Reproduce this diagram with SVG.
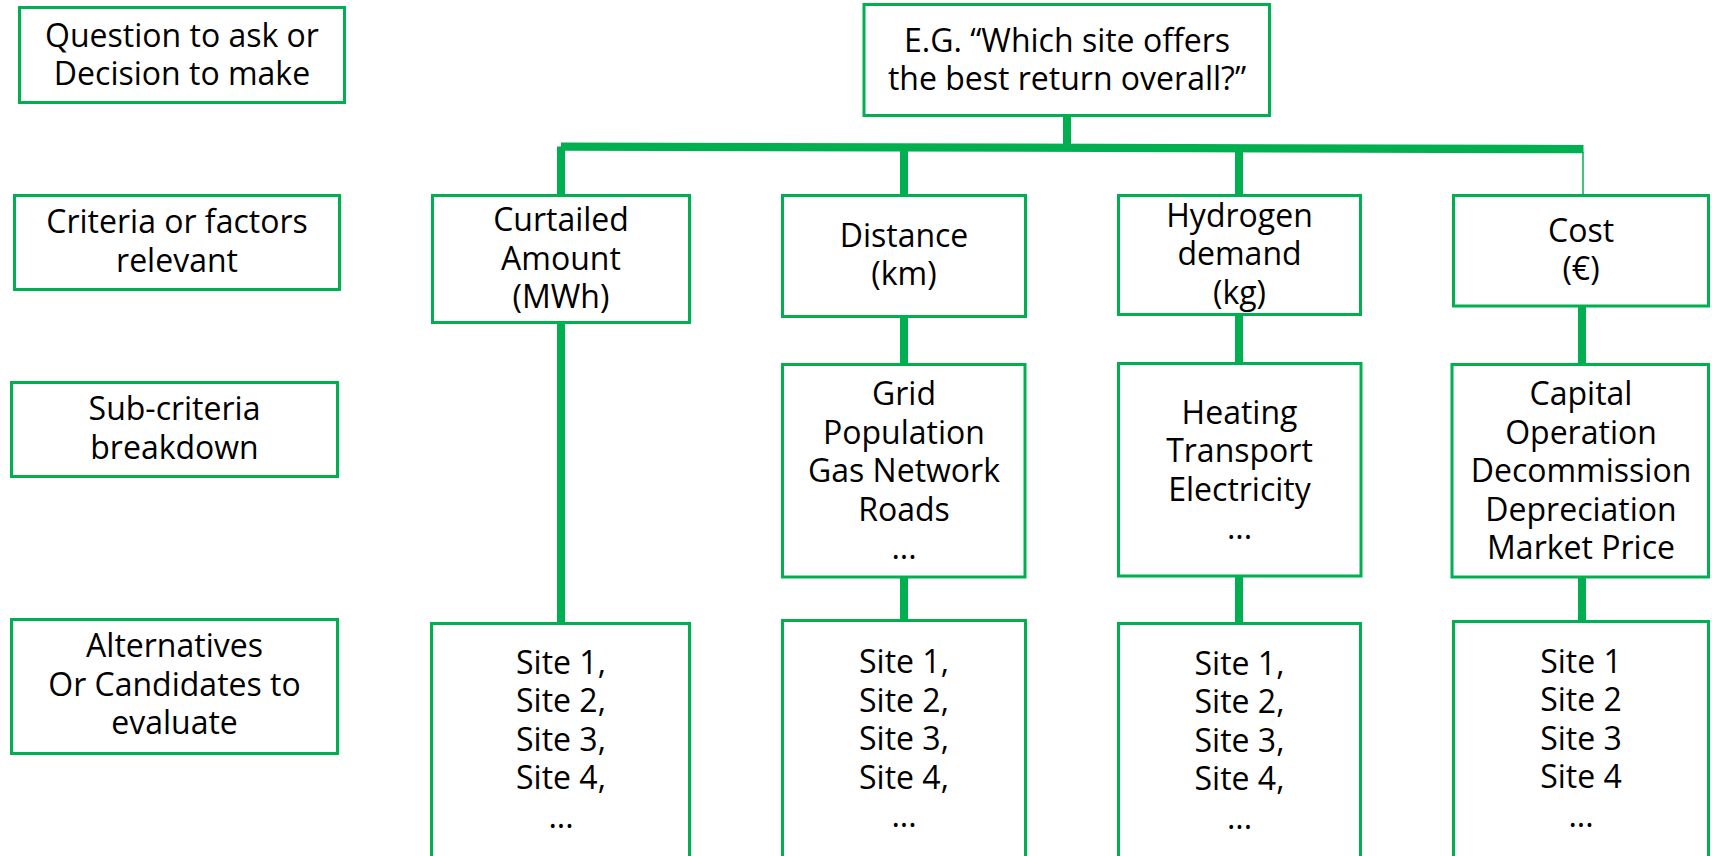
<svg xmlns="http://www.w3.org/2000/svg" width="1712" height="856" viewBox="0 0 1712 856">
<style>
.box{fill:#fff;stroke:#00B050;stroke-width:3}
.t{font-family:"Open Sans","Noto Sans","Liberation Sans",sans-serif;font-size:32px;fill:#000;text-anchor:middle}
.c{stroke:#00B050;stroke-width:8;fill:none}
.thin{stroke:#00B050;stroke-width:1.5;fill:none}
</style>
<rect width="1712" height="856" fill="#fff"/>
<g id="connectors">
<line class="c" x1="1067" y1="116" x2="1067" y2="147"/>
<polygon points="561,142.5 1583.5,145 1583.5,153.3 561,150.7" fill="#00B050"/>
<line class="c" x1="561" y1="146.5" x2="561" y2="623"/>
<line class="c" x1="904" y1="149" x2="904" y2="195"/>
<line class="c" x1="904" y1="317" x2="904" y2="364"/>
<line class="c" x1="904" y1="577" x2="904" y2="620"/>
<line class="c" x1="1239" y1="149" x2="1239" y2="195"/>
<line class="c" x1="1239" y1="315" x2="1239" y2="363"/>
<line class="c" x1="1239" y1="576" x2="1239" y2="623"/>
<line class="thin" x1="1583" y1="152" x2="1583" y2="195"/>
<line class="c" x1="1582" y1="306" x2="1582" y2="364"/>
<line class="c" x1="1582" y1="577" x2="1582" y2="621"/>
</g>
<g id="label-question">
<rect class="box" x="19.5" y="7.5" width="325" height="95"/>
<text class="t" x="182" y="46.5">Question to ask or</text>
<text class="t" x="182" y="85">Decision to make</text>
</g>
<g id="label-criteria">
<rect class="box" x="14.5" y="195.5" width="325" height="94"/>
<text class="t" x="177" y="233">Criteria or factors</text>
<text class="t" x="177" y="271.5">relevant</text>
</g>
<g id="label-subcriteria">
<rect class="box" x="11.5" y="382.5" width="326" height="94"/>
<text class="t" x="174.5" y="420">Sub-criteria</text>
<text class="t" x="174.5" y="458.5">breakdown</text>
</g>
<g id="label-alternatives">
<rect class="box" x="11.5" y="619.5" width="326" height="134"/>
<text class="t" x="174.5" y="657">Alternatives</text>
<text class="t" x="174.5" y="695.5">Or Candidates to</text>
<text class="t" x="174.5" y="734">evaluate</text>
</g>
<g id="goal">
<rect class="box" x="864" y="4.5" width="405.5" height="111"/>
<text class="t" x="1067" y="51.5">E.G. “Which site offers</text>
<text class="t" x="1067" y="90">the best return overall?”</text>
</g>
<g id="crit-curtailed">
<rect class="box" x="432.5" y="195.5" width="257" height="127"/>
<text class="t" x="561" y="231">Curtailed</text>
<text class="t" x="561" y="269.5">Amount</text>
<text class="t" x="561" y="308">(MWh)</text>
</g>
<g id="crit-distance">
<rect class="box" x="782.5" y="195.5" width="243" height="121"/>
<text class="t" x="904" y="246.5">Distance</text>
<text class="t" x="904" y="285">(km)</text>
</g>
<g id="crit-hydrogen">
<rect class="box" x="1118.5" y="195.5" width="242" height="119"/>
<text class="t" x="1239.5" y="226.5">Hydrogen</text>
<text class="t" x="1239.5" y="265">demand</text>
<text class="t" x="1239.5" y="303.5">(kg)</text>
</g>
<g id="crit-cost">
<rect class="box" x="1453.5" y="195.5" width="255" height="110.5"/>
<text class="t" x="1581" y="241.5">Cost</text>
<text class="t" x="1581" y="280">(€)</text>
</g>
<g id="sub-distance">
<rect class="box" x="782.5" y="364.5" width="242.5" height="212.5"/>
<text class="t" x="904" y="405">Grid</text>
<text class="t" x="904" y="443.5">Population</text>
<text class="t" x="904" y="482">Gas Network</text>
<text class="t" x="904" y="520.5">Roads</text>
<text class="t" x="904" y="559">...</text>
</g>
<g id="sub-hydrogen">
<rect class="box" x="1118.5" y="363.5" width="242.5" height="212.5"/>
<text class="t" x="1239.5" y="423.5">Heating</text>
<text class="t" x="1239.5" y="462">Transport</text>
<text class="t" x="1239.5" y="500.5">Electricity</text>
<text class="t" x="1239.5" y="539">...</text>
</g>
<g id="sub-cost">
<rect class="box" x="1452" y="364.5" width="256.5" height="212.5"/>
<text class="t" x="1581" y="405">Capital</text>
<text class="t" x="1581" y="443.5">Operation</text>
<text class="t" x="1581" y="482">Decommission</text>
<text class="t" x="1581" y="520.5">Depreciation</text>
<text class="t" x="1581" y="559">Market Price</text>
</g>
<g id="alt-curtailed">
<rect class="box" x="431.5" y="623.5" width="258" height="260"/>
<text class="t" x="561" y="673.5">Site 1,</text>
<text class="t" x="561" y="712">Site 2,</text>
<text class="t" x="561" y="750.5">Site 3,</text>
<text class="t" x="561" y="789">Site 4,</text>
<text class="t" x="561" y="827.5">...</text>
</g>
<g id="alt-distance">
<rect class="box" x="782.5" y="620.5" width="243" height="260"/>
<text class="t" x="904" y="673">Site 1,</text>
<text class="t" x="904" y="711.5">Site 2,</text>
<text class="t" x="904" y="750">Site 3,</text>
<text class="t" x="904" y="788.5">Site 4,</text>
<text class="t" x="904" y="827">...</text>
</g>
<g id="alt-hydrogen">
<rect class="box" x="1118.5" y="623.5" width="242" height="260"/>
<text class="t" x="1239.5" y="674.5">Site 1,</text>
<text class="t" x="1239.5" y="713">Site 2,</text>
<text class="t" x="1239.5" y="751.5">Site 3,</text>
<text class="t" x="1239.5" y="790">Site 4,</text>
<text class="t" x="1239.5" y="828.5">...</text>
</g>
<g id="alt-cost">
<rect class="box" x="1453.5" y="621.5" width="255" height="260"/>
<text class="t" x="1581" y="672.5">Site 1</text>
<text class="t" x="1581" y="711">Site 2</text>
<text class="t" x="1581" y="749.5">Site 3</text>
<text class="t" x="1581" y="788">Site 4</text>
<text class="t" x="1581" y="826.5">...</text>
</g>
</svg>
